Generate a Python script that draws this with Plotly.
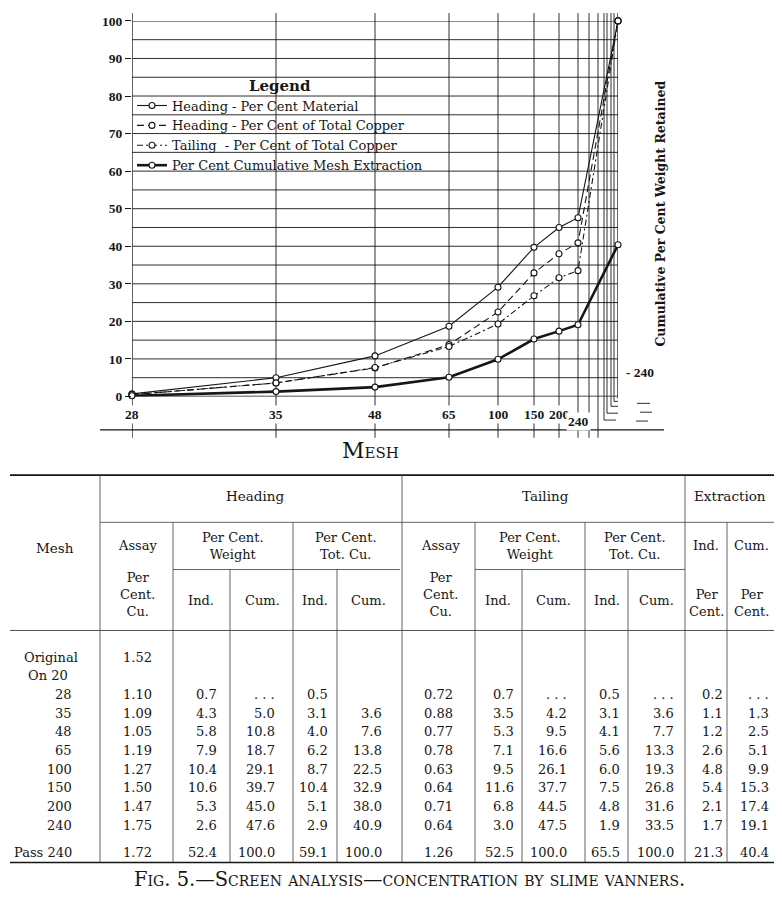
import plotly.graph_objects as go

W, H = 782, 908
OFF = 8                      # page margin the browser puts round the figure
DY = 2                       # small vertical nudge
FW, FH = W - 2 * OFF, H - 2 * OFF
INK = "#161616"
RULE = "#3c3c3c"
SERIF = "DejaVu Serif"
NUM = "Liberation Serif"

# ---------------- chart data ----------------
chart_mesh = ["28", "35", "48", "65", "100", "150", "200", "240", "Pass 240"]
heading_material = [0.7, 5.0, 10.8, 18.7, 29.1, 39.7, 45.0, 47.6, 100.0]
heading_copper = [0.5, 3.6, 7.6, 13.8, 22.5, 32.9, 38.0, 40.9, 100.0]
tailing_copper = [0.5, 3.6, 7.7, 13.3, 19.3, 26.8, 31.6, 33.5, 100.0]
extraction_cum = [0.2, 1.3, 2.5, 5.1, 9.9, 15.3, 17.4, 19.1, 40.4]
series_names = [
    "Heading - Per Cent Material",
    "Heading - Per Cent of Total Copper",
    "Tailing  - Per Cent of Total Copper",
    "Per Cent Cumulative Mesh Extraction",
]
left_tick_values = [0, 10, 20, 30, 40, 50, 60, 70, 80, 90, 100]
right_tick_values = [0, 10, 20, 30, 40, 50, 60, 70, 80, 90, 100]
mesh_tick_labels = ["28", "35", "48", "65", "100", "150", "200", "240"]
right_extra_label = "- 240"
right_extra_value = 6.5

# ---------------- table data ----------------
table_mesh = ["Original", "On 20", "28", "35", "48", "65", "100", "150", "200", "240", "Pass 240"]
head_assay = ["1.52", "", "1.10", "1.09", "1.05", "1.19", "1.27", "1.50", "1.47", "1.75", "1.72"]
head_wt_ind = ["", "", "0.7", "4.3", "5.8", "7.9", "10.4", "10.6", "5.3", "2.6", "52.4"]
head_wt_cum = ["", "", ". . .", "5.0", "10.8", "18.7", "29.1", "39.7", "45.0", "47.6", "100.0"]
head_cu_ind = ["", "", "0.5", "3.1", "4.0", "6.2", "8.7", "10.4", "5.1", "2.9", "59.1"]
head_cu_cum = ["", "", "", "3.6", "7.6", "13.8", "22.5", "32.9", "38.0", "40.9", "100.0"]
tail_assay = ["", "", "0.72", "0.88", "0.77", "0.78", "0.63", "0.64", "0.71", "0.64", "1.26"]
tail_wt_ind = ["", "", "0.7", "3.5", "5.3", "7.1", "9.5", "11.6", "6.8", "3.0", "52.5"]
tail_wt_cum = ["", "", ". . .", "4.2", "9.5", "16.6", "26.1", "37.7", "44.5", "47.5", "100.0"]
tail_cu_ind = ["", "", "0.5", "3.1", "4.1", "5.6", "6.0", "7.5", "4.8", "1.9", "65.5"]
tail_cu_cum = ["", "", ". . .", "3.6", "7.7", "13.3", "19.3", "26.8", "31.6", "33.5", "100.0"]
ext_ind = ["", "", "0.2", "1.1", "1.2", "2.6", "4.8", "5.4", "2.1", "1.7", "21.3"]
ext_cum = ["", "", ". . .", "1.3", "2.5", "5.1", "9.9", "15.3", "17.4", "19.1", "40.4"]

# ---------------- scale of the original chart (mesh axis, non-uniform) ----------------
MESH_SCALE = {"28": 0, "35": 144, "48": 243, "65": 317, "100": 366,
              "150": 402, "200": 427, "240": 446, "Pass 240": 486}
FINE_RULINGS = [457, 466, 472, 475, 479, 482]


def px(x):
    return (x - OFF) / FW


def py(y):
    return 1 - (y - OFF + DY) / FH


fig = go.Figure()

styles = [
    dict(width=1.1, dash="solid"),
    dict(width=1.1, dash="7px,4px"),
    dict(width=1.1, dash="6px,3px,2px,3px"),
    dict(width=2.6, dash="solid"),
]
for name, vals, st in zip(series_names,
                          [heading_material, heading_copper, tailing_copper, extraction_cum],
                          styles):
    fig.add_trace(go.Scatter(
        x=[MESH_SCALE[m] for m in chart_mesh], y=vals, name=name,
        mode="lines+markers", cliponaxis=False,
        line=dict(color=INK, **st),
        marker=dict(symbol="circle", size=6, color="white", line=dict(color=INK, width=1.1)),
    ))

shapes = []


def seg(x0, y0, x1, y1, xref="paper", yref="paper", width=0.9, color=INK, dash="solid"):
    shapes.append(dict(type="line", x0=x0, y0=y0, x1=x1, y1=y1, xref=xref, yref=yref,
                       layer="below", line=dict(color=color, width=width, dash=dash)))


# horizontal rulings of the chart
for v in range(0, 101, 5):
    w = 1.4 if v in (0, 100) else 0.9
    seg(0, v, MESH_SCALE["Pass 240"], v, xref="x", yref="y", width=w)
# vertical rulings at each mesh
for m in mesh_tick_labels:
    seg(MESH_SCALE[m], py(436), MESH_SCALE[m], py(4), xref="x", width=1.3 if m == "28" else 0.9)
# right axis line
seg(MESH_SCALE["Pass 240"], py(396), MESH_SCALE["Pass 240"], py(4), xref="x", width=1.3)
# fine rulings beyond 240, some hooked at the foot
hooks = {472: (418, 616), 475: (411, 619), 479: (404, 622), 482: (399, 626)}
for f in FINE_RULINGS:
    if f in hooks:
        yb, xe = hooks[f]
        shapes.append(dict(type="path", xref="x", yref="paper", layer="below",
                           path=f"M {f},{py(4)} L {f},{py(yb)} L {xe - 132},{py(yb)}",
                           line=dict(color=INK, width=0.9)))
    else:
        seg(f, py(4), f, py(436), xref="x", width=0.9)
# base line under the mesh labels
seg(px(100), py(428), px(664), py(428), width=1.2)
# small marks at lower right
for (a, b, yy) in [(637, 650, 401), (640, 652, 410), (636, 648, 419)]:
    seg(px(a), py(yy), px(b), py(yy), width=0.9)

# ---------------- table rulings ----------------
RIGHT = 774
seg(px(10), py(474), px(RIGHT), py(474), width=1.6)
seg(px(100), py(522), px(RIGHT), py(522), width=0.8, color=RULE)
seg(px(173), py(570), px(400), py(570), width=0.8, color=RULE)
seg(px(475), py(570), px(685), py(570), width=0.8, color=RULE)
seg(px(10), py(632), px(RIGHT), py(632), width=0.9, color=RULE)
seg(px(10), py(868), px(RIGHT), py(868), width=1.6)
for xx in (100, 402, 685):
    seg(px(xx), py(474), px(xx), py(868), width=0.8, color=RULE)
for xx in (173, 293, 475, 585, 727):
    seg(px(xx), py(522), px(xx), py(868), width=0.8, color=RULE)
for xx in (230, 337, 522, 628):
    seg(px(xx), py(570), px(xx), py(868), width=0.8, color=RULE)

annotations = []


def txt(x, y, s, anchor="center", size=12.5, family=SERIF, weight="normal", xref="paper",
        yref="paper", bg=None, variant="normal", angle=0):
    a = dict(x=x if xref != "paper" else px(x), y=y if yref != "paper" else py(y),
             xref=xref, yref=yref, text=s, showarrow=False, xanchor=anchor, yanchor="middle",
             textangle=angle,
             font=dict(family=family, size=size, color=INK, weight=weight, variant=variant))
    if bg:
        a["bgcolor"] = bg
        a["borderpad"] = 0
    annotations.append(a)


# mesh labels of the chart
for m in mesh_tick_labels:
    yy = 419 if m == "240" else 412
    annotations.append(dict(x=MESH_SCALE[m], y=py(yy), xref="x", yref="paper", text=m,
                            showarrow=False, xanchor="center", yanchor="middle", bgcolor="white",
                            font=dict(family=NUM, size=13.5, color=INK, weight="bold")))
txt(624, right_extra_value, right_extra_label, anchor="left", size=13.5, family=NUM,
    weight="bold", yref="y")
txt(370, 449, "Mesh", size=22, variant="small-caps")
txt(661, 208, "Cumulative Per Cent Weight Retained", size=12.5, weight="bold", angle=-90)
txt(410, 885, "Fig. 5.—Screen analysis—concentration by slime vanners.", size=19.5,
    variant="small-caps")

# table headers
txt(255, 495, "Heading", size=13.5)
txt(545, 495, "Tailing", size=13.5)
txt(730, 495, "Extraction", size=13.5)
txt(55, 548, "Mesh", size=13.5)
for cx in (137, 440):
    txt(cx, 546, "Assay", size=13)
    txt(cx, 595, "Per<br>Cent.<br>Cu.", size=13)
for cx in (233, 530):
    txt(cx, 546, "Per Cent.<br>Weight", size=13)
for cx in (346, 635):
    txt(cx, 546, "Per Cent.<br>Tot. Cu.", size=13)
txt(706, 546, "Ind.", size=13)
txt(751, 546, "Cum.", size=13)
txt(706, 604, "Per<br>Cent.", size=13)
txt(751, 604, "Per<br>Cent.", size=13)
for cx, s in [(201, "Ind."), (262, "Cum."), (315, "Ind."), (368, "Cum."),
              (498, "Ind."), (553, "Cum."), (607, "Ind."), (656, "Cum.")]:
    txt(cx, 602, s, size=13)

row_y = [659, 678, 697, 716, 735, 754, 773, 792, 811, 830, 858]
for label, yy in zip(table_mesh, row_y):
    if label == "Original":
        txt(22, yy, label, anchor="left", size=13)
    elif label == "On 20":
        txt(26, yy, label, anchor="left", size=13)
    else:
        txt(74, yy, label, anchor="right", size=13)

columns = [
    (head_assay, 137, "center"), (head_wt_ind, 219, "right"), (head_wt_cum, 277, "right"),
    (head_cu_ind, 330, "right"), (head_cu_cum, 384, "right"),
    (tail_assay, 438, "center"), (tail_wt_ind, 516, "right"), (tail_wt_cum, 569, "right"),
    (tail_cu_ind, 622, "right"), (tail_cu_cum, 676, "right"),
    (ext_ind, 725, "right"), (ext_cum, 771, "right"),
]
for vals, cx, anc in columns:
    for v, yy in zip(vals, row_y):
        if v:
            txt(cx, yy, v, anchor=anc, size=13)

fig.update_layout(
    width=FW, height=FH, autosize=False,
    margin=dict(l=0, r=0, t=0, b=0),
    paper_bgcolor="white", plot_bgcolor="rgba(0,0,0,0)",
    showlegend=True,
    legend=dict(x=px(132), y=py(63), xanchor="left", yanchor="top",
                bgcolor="rgba(0,0,0,0)", itemwidth=30,
                font=dict(family=SERIF, size=13, color=INK),
                title=dict(text="Legend", side="top center",
                           font=dict(family=SERIF, size=15, color=INK, weight="bold"))),
    xaxis=dict(domain=[px(132), px(618)], range=[0, 486], showgrid=False, zeroline=False,
               showline=False, showticklabels=False, ticks="", fixedrange=True),
    yaxis=dict(domain=[py(394), py(12)], range=[0, 100], tickvals=left_tick_values,
               ticks="outside", ticklen=6, tickcolor=INK, tickwidth=1,
               showgrid=False, zeroline=False, showline=False, ticklabeloverflow="allow",
               tickfont=dict(family=NUM, size=13.5, color=INK, weight="bold")),
    yaxis2=dict(overlaying="y", side="right", anchor="x", range=[0, 100],
                tickvals=right_tick_values, ticks="outside", ticklen=6, tickcolor=INK,
                showgrid=False, zeroline=False, showline=False, ticklabeloverflow="allow",
                tickfont=dict(family=NUM, size=13.5, color=INK, weight="bold")),
    shapes=shapes,
    annotations=annotations,
)

fig.write_html("out.html")
